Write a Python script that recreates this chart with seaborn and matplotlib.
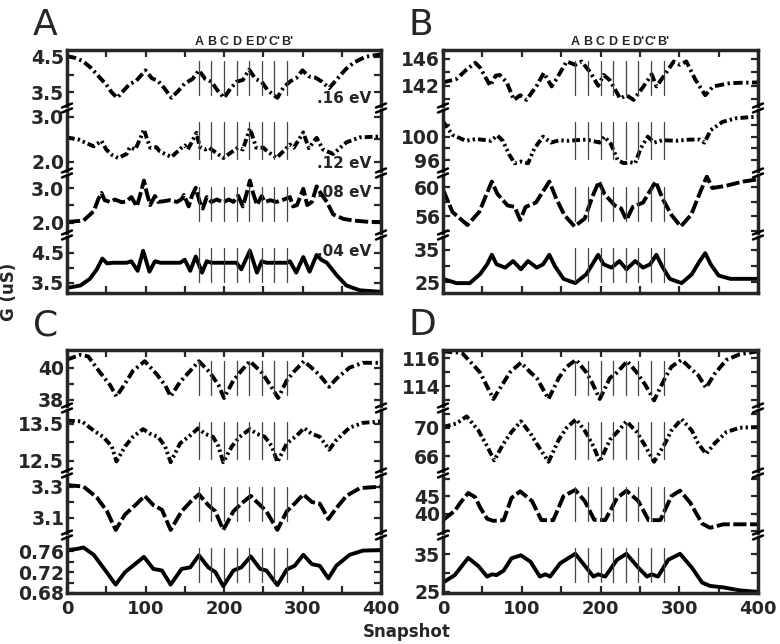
import matplotlib
matplotlib.use("Agg")
import matplotlib.pyplot as plt
from matplotlib.lines import Line2D
import seaborn as sns

# ---- data (snapshot, conductance in uS) ----
# Panel A
a16_x = [0, 10, 20, 30, 40, 50, 57, 64, 72, 80, 88, 100, 108, 116, 124, 133, 142, 150, 160, 168,
         176, 184, 192, 200, 208, 216, 224, 232, 240, 248, 256, 268, 276, 285, 292, 300, 308, 316,
         325, 334, 345, 355, 365, 380, 400]
a16_y = [4.52, 4.47, 4.38, 4.20, 3.96, 3.72, 3.50, 3.35, 3.55, 3.74, 3.82, 4.12, 3.90, 3.82, 3.62,
         3.35, 3.55, 3.75, 3.88, 4.12, 3.88, 3.80, 3.55, 3.35, 3.60, 3.80, 3.85, 4.14, 3.88, 3.80,
         3.55, 3.35, 3.65, 3.82, 3.90, 4.12, 3.95, 3.92, 3.80, 3.62, 3.90, 4.15, 4.33, 4.50, 4.57]
a12_x = [0, 15, 25, 34, 44, 50, 57, 65, 76, 80, 87, 93, 98, 102, 106, 114, 118, 133, 146, 150, 154,
         165, 169, 176, 181, 199, 212, 218, 224, 233, 241, 250, 255, 267, 280, 284, 289, 301, 308,
         318, 326, 339, 356, 373, 400]
a12_y = [2.54, 2.49, 2.41, 2.34, 2.46, 2.27, 2.15, 2.08, 2.17, 2.32, 2.27, 2.50, 2.72, 2.50, 2.31,
         2.32, 2.23, 2.10, 2.31, 2.36, 2.27, 2.64, 2.33, 2.27, 2.31, 2.08, 2.24, 2.31, 2.27, 2.74,
         2.31, 2.31, 2.23, 2.08, 2.31, 2.38, 2.31, 2.65, 2.30, 2.53, 2.27, 2.17, 2.43, 2.54, 2.56]
a08_x = [0, 21, 34, 40, 44, 48, 55, 61, 70, 76, 82, 89, 94, 98, 102, 106, 112, 116, 123, 131, 140,
         146, 149, 155, 159, 164, 169, 173, 178, 184, 191, 199, 206, 212, 218, 224, 229, 233, 237,
         242, 248, 252, 259, 267, 276, 284, 288, 293, 301, 306, 312, 318, 323, 331, 339, 352, 365,
         386, 399]
a08_y = [2.02, 2.06, 2.33, 2.69, 2.86, 2.65, 2.60, 2.67, 2.59, 2.62, 2.74, 2.47, 2.87, 3.22, 2.83,
         2.51, 2.77, 2.60, 2.62, 2.65, 2.60, 2.68, 2.80, 2.47, 2.77, 3.01, 2.60, 2.41, 2.74, 2.60,
         2.67, 2.59, 2.67, 2.60, 2.78, 2.47, 2.86, 3.22, 2.86, 2.51, 2.77, 2.60, 2.65, 2.60, 2.67,
         2.74, 2.47, 2.51, 2.98, 2.51, 2.60, 3.05, 2.86, 2.60, 2.24, 2.11, 2.06, 2.02, 2.02]
a04_x = [0, 17, 29, 38, 45, 51, 59, 76, 82, 90, 97, 105, 112, 119, 144, 150, 157, 164, 172, 178,
         184, 216, 222, 233, 242, 248, 254, 280, 284, 292, 301, 309, 318, 324, 331, 344, 356, 373, 399]
a04_y = [3.32, 3.40, 3.62, 3.94, 4.30, 4.14, 4.16, 4.16, 4.21, 3.89, 4.56, 3.86, 4.21, 4.16, 4.16,
         4.26, 3.89, 4.37, 3.83, 4.21, 4.16, 4.16, 3.94, 4.56, 3.83, 4.21, 4.16, 4.16, 4.21, 3.83,
         4.35, 3.86, 4.42, 4.26, 4.16, 3.73, 3.40, 3.24, 3.19]

# Panel B
b1_x = [0, 17, 30, 41, 47, 60, 67, 72, 81, 90, 98, 106, 119, 128, 138, 144, 157, 168, 176, 187,
        197, 204, 212, 225, 233, 242, 254, 265, 271, 282, 293, 301, 309, 320, 333, 343, 365, 400]
b1_y = [142.5, 143.0, 144.4, 145.4, 144.7, 142.0, 143.5, 143.6, 142.5, 139.9, 140.6, 139.9, 142.0,
        143.9, 141.9, 143.0, 145.6, 145.1, 145.6, 144.0, 142.0, 143.6, 142.8, 140.1, 140.6, 139.9,
        141.8, 143.7, 141.9, 143.7, 145.6, 145.1, 145.6, 143.0, 140.6, 141.9, 142.4, 142.5]
b2_x = [0, 12, 29, 42, 55, 61, 69, 76, 84, 91, 99, 108, 116, 127, 137, 148, 160, 169, 182, 199,
        205, 213, 222, 230, 237, 244, 251, 260, 268, 279, 296, 313, 326, 332, 340, 355, 372, 400]
b2_y = [102.6, 100.3, 99.3, 99.6, 99.4, 99.3, 100.2, 99.3, 97.0, 95.5, 95.8, 95.5, 98.0, 100.0,
        99.0, 99.4, 99.3, 99.4, 99.5, 99.0, 100.0, 98.8, 96.0, 95.5, 95.7, 95.5, 98.0, 100.0, 99.0,
        99.4, 99.3, 99.5, 99.5, 99.0, 101.1, 102.5, 103.1, 103.4]
b3_x = [0, 12, 31, 46, 62, 69, 82, 91, 98, 105, 118, 135, 144, 154, 167, 180, 190, 198, 205, 218,
        226, 233, 241, 254, 270, 279, 290, 302, 315, 328, 335, 342, 359, 381, 400]
b3_y = [59.7, 56.6, 54.8, 56.6, 60.8, 59.1, 57.5, 57.3, 55.5, 57.3, 57.9, 60.8, 58.4, 56.2, 54.6,
        55.7, 58.8, 60.8, 59.1, 57.5, 57.1, 55.5, 57.3, 57.9, 60.8, 58.4, 56.2, 54.6, 56.2, 59.7,
        61.5, 59.9, 60.2, 60.8, 61.1]
b4_x = [0, 17, 34, 47, 56, 62, 68, 79, 89, 99, 108, 119, 127, 135, 142, 153, 168, 182, 197, 204,
        214, 224, 233, 244, 254, 263, 271, 278, 288, 303, 316, 326, 333, 340, 350, 365, 400]
b4_y = [26.1, 24.8, 24.8, 27.5, 30.5, 33.4, 30.5, 29.5, 31.5, 29.0, 31.5, 29.5, 30.5, 33.4, 30.0,
        26.1, 24.8, 27.5, 33.4, 30.5, 29.5, 31.5, 29.0, 31.5, 29.5, 30.5, 33.4, 30.0, 26.1, 24.8,
        27.5, 31.5, 33.9, 30.5, 27.1, 26.1, 26.1]

# Panel C
c1_x = [0, 17, 27, 42, 55, 63, 74, 84, 99, 114, 125, 132, 144, 157, 168, 182, 193, 200, 212, 222,
        233, 248, 259, 269, 280, 290, 302, 316, 324, 334, 343, 360, 377, 400]
c1_y = [40.5, 40.8, 40.7, 39.7, 38.9, 38.2, 39.0, 39.8, 40.4, 39.6, 38.9, 38.2, 39.1, 39.8, 40.4,
        39.7, 38.9, 38.1, 39.2, 39.8, 40.4, 39.7, 38.9, 38.1, 39.2, 39.8, 40.4, 39.8, 39.4, 38.8,
        39.3, 40.0, 40.3, 40.3]
c2_x = [0, 19, 34, 46, 57, 63, 74, 84, 97, 106, 116, 125, 132, 144, 157, 167, 176, 186, 193, 199,
        210, 220, 233, 242, 252, 261, 268, 280, 293, 302, 312, 322, 334, 343, 360, 377, 400]
c2_y = [13.59, 13.57, 13.32, 13.15, 12.89, 12.48, 12.89, 13.15, 13.36, 13.23, 13.15, 12.89, 12.46,
        12.97, 13.19, 13.38, 13.23, 13.15, 12.89, 12.46, 12.89, 13.15, 13.36, 13.23, 13.15, 12.89,
        12.46, 12.97, 13.19, 13.39, 13.23, 13.15, 12.80, 13.06, 13.40, 13.53, 13.57]
c3_x = [0, 21, 38, 51, 62, 74, 87, 99, 110, 121, 132, 146, 157, 168, 180, 189, 199, 212, 222, 234,
        246, 254, 268, 280, 290, 301, 312, 322, 333, 343, 356, 373, 400]
c3_y = [3.31, 3.30, 3.23, 3.14, 3.02, 3.12, 3.18, 3.24, 3.18, 3.15, 3.02, 3.14, 3.20, 3.25, 3.18,
        3.14, 3.02, 3.14, 3.19, 3.24, 3.18, 3.14, 3.02, 3.14, 3.19, 3.25, 3.20, 3.19, 3.09, 3.16,
        3.24, 3.29, 3.30]
c4_x = [0, 12, 21, 34, 46, 62, 74, 84, 98, 110, 121, 132, 146, 157, 168, 180, 189, 199, 212, 222,
        234, 246, 254, 268, 280, 290, 301, 312, 322, 333, 343, 360, 377, 400]
c4_y = [0.762, 0.764, 0.767, 0.753, 0.729, 0.696, 0.720, 0.732, 0.749, 0.726, 0.723, 0.696, 0.726,
        0.729, 0.752, 0.729, 0.720, 0.693, 0.723, 0.729, 0.750, 0.726, 0.723, 0.695, 0.725, 0.732,
        0.753, 0.735, 0.732, 0.708, 0.732, 0.753, 0.761, 0.762]

# Panel D
d1_x = [0, 24, 34, 47, 64, 75, 85, 99, 111, 119, 134, 147, 157, 169, 182, 189, 199, 212, 221, 234,
        246, 257, 268, 282, 290, 303, 316, 324, 334, 345, 360, 377, 400]
d1_y = [116.5, 116.4, 115.8, 115.0, 113.1, 114.1, 115.0, 115.7, 115.0, 114.6, 113.1, 114.6, 115.4,
        115.9, 115.0, 114.3, 113.1, 114.6, 115.0, 115.8, 115.0, 114.1, 113.0, 114.6, 115.4, 115.9,
        115.2, 114.8, 113.9, 114.9, 115.9, 116.3, 116.5]
d2_x = [0, 17, 30, 45, 56, 65, 77, 87, 99, 111, 121, 134, 147, 157, 169, 180, 191, 199, 212, 223,
        233, 246, 257, 268, 282, 290, 303, 316, 324, 334, 345, 360, 377, 400]
d2_y = [70.1, 70.6, 71.6, 69.6, 67.4, 65.4, 67.8, 69.4, 70.9, 69.2, 67.4, 65.2, 68.3, 70.0, 71.2,
        69.6, 67.4, 65.2, 68.3, 69.6, 70.9, 69.4, 67.4, 65.2, 67.8, 69.6, 71.2, 69.6, 67.8, 66.3,
        67.8, 69.4, 70.0, 70.1]
d3_x = [0, 15, 22, 32, 41, 47, 56, 64, 77, 87, 98, 113, 125, 140, 153, 168, 180, 192, 206, 221,
        233, 248, 261, 276, 290, 301, 314, 329, 339, 356, 400]
d3_y = [38.1, 40.8, 43.1, 45.9, 44.7, 41.8, 38.5, 37.9, 38.1, 44.5, 46.4, 43.6, 38.1, 38.1, 45.0,
        46.8, 43.6, 38.2, 38.1, 44.5, 46.6, 43.6, 38.1, 38.1, 45.0, 46.6, 43.1, 37.1, 35.9, 36.9, 36.9]
d4_x = [0, 15, 32, 45, 56, 62, 68, 77, 87, 99, 111, 123, 130, 136, 149, 168, 182, 191, 197, 206,
        221, 233, 248, 259, 265, 273, 286, 301, 316, 329, 339, 356, 377, 400]
d4_y = [27.4, 29.4, 34.0, 31.8, 29.0, 29.6, 29.4, 30.6, 33.9, 34.7, 33.0, 29.0, 29.6, 29.0, 32.6,
        35.1, 31.4, 29.0, 29.6, 29.0, 33.5, 35.1, 31.4, 29.0, 29.6, 29.0, 33.5, 35.1, 31.4, 27.4,
        26.5, 26.1, 25.3, 24.9]

# vertical marker snapshots and their labels
marker_snaps = [168, 184, 200, 216, 232, 248, 264, 280]
marker_names = ["A", "B", "C", "D", "E", "D'", "C'", "B'"]

energy_labels = [".16 eV", ".12 eV", ".08 eV", ".04 eV"]

# ---- style ----
sns.set_style("ticks")
plt.rcParams['font.family'] = ['DejaVu Sans']
plt.rcParams['font.weight'] = 'bold'

W, H = 780, 644
fig = plt.figure(figsize=(W / 100, H / 100), dpi=100)

line_styles = [(0, (2.4, 0.9, 0.6, 0.9)),
               (0, (2.0, 0.8, 0.6, 0.8, 0.6, 0.8)),
               (0, (3.4, 0.9)),
               '-']
sub_edges = [0, 58, 123, 185, 243]   # pixel offsets of breaks inside a panel
GAP = 4

panels = [
    dict(name='A', left=67, top=50, width=314,
         curves=[(a16_x, a16_y), (a12_x, a12_y), (a08_x, a08_y), (a04_x, a04_y)],
         ylims=[(3.12, 4.69), (1.79, 3.15), (1.70, 3.38), (3.15, 5.02)],
         yticks=[[3.5, 4.0, 4.5], [2.0, 2.5, 3.0], [2.0, 2.5, 3.0], [3.5, 4.0, 4.5]],
         ylabels=[['3.5', '', '4.5'], ['2.0', '', '3.0'], ['2.0', '', '3.0'], ['3.5', '', '4.5']],
         xlabels=False, top_labels=True, energies=True),
    dict(name='B', left=443, top=50, width=315,
         curves=[(b1_x, b1_y), (b2_x, b2_y), (b3_x, b3_y), (b4_x, b4_y)],
         ylims=[(139.0, 147.3), (94.2, 104.5), (53.7, 61.7), (21.8, 38.8)],
         yticks=[[140, 142, 144, 146], [96, 98, 100, 102], [54, 56, 58, 60], [25, 30, 35]],
         ylabels=[['', '142', '', '146'], ['96', '', '100', ''], ['', '56', '', '60'],
                  ['25', '', '35']],
         xlabels=False, top_labels=True, energies=False),
    dict(name='C', left=67, top=350, width=314,
         curves=[(c1_x, c1_y), (c2_x, c2_y), (c3_x, c3_y), (c4_x, c4_y)],
         ylims=[(37.6, 41.1), (12.22, 13.88), (3.0, 3.375), (0.68, 0.787)],
         yticks=[[38, 39, 40], [12.5, 13.0, 13.5], [3.1, 3.2, 3.3], [0.68, 0.70, 0.72, 0.74, 0.76]],
         ylabels=[['38', '', '40'], ['12.5', '', '13.5'], ['3.1', '', '3.3'],
                  ['0.68', '', '0.72', '', '0.76']],
         xlabels=True, top_labels=False, energies=False),
    dict(name='D', left=443, top=350, width=315,
         curves=[(d1_x, d1_y), (d2_x, d2_y), (d3_x, d3_y), (d4_x, d4_y)],
         ylims=[(112.6, 116.6), (63.9, 72.5), (34.4, 51.1), (24.6, 39.6)],
         yticks=[[113, 114, 115, 116], [66, 68, 70, 72], [35, 40, 45, 50], [25, 30, 35]],
         ylabels=[['', '114', '', '116'], ['66', '', '70', ''], ['', '40', '45', ''],
                  ['25', '', '35']],
         xlabels=True, top_labels=False, energies=False),
]

energy_pos = [(0.97, 0.14), (0.97, 0.12), (0.97, 0.69), (0.97, 0.74)]


def fx(px):
    return px / W


def fy(py):
    return 1 - py / H


def break_marks(xpx, ypx):
    # two short slanted strokes across a spine
    for dy in (-2.5, 2.5):
        fig.add_artist(Line2D([fx(xpx - 5), fx(xpx + 5)],
                              [fy(ypx + dy + 2), fy(ypx + dy - 2)],
                              color='black', lw=1.8, transform=fig.transFigure))


for p in panels:
    for i in range(4):
        t = p['top'] + sub_edges[i] + (GAP / 2 if i > 0 else 0)
        b = p['top'] + sub_edges[i + 1] - (GAP / 2 if i < 3 else 0)
        ax = fig.add_axes([fx(p['left']), fy(b), p['width'] / W, (b - t) / H])
        xs, ys = p['curves'][i]
        sns.lineplot(x=xs, y=ys, ax=ax, color='black', linewidth=2.8,
                     linestyle=line_styles[i], errorbar=None)
        for s in marker_snaps:
            ax.axvline(s, ymin=0.2, ymax=0.8, color='#444444', lw=0.9)
        ax.set_xlim(0, 400)
        ax.set_ylim(*p['ylims'][i])
        ax.set_yticks(p['yticks'][i])
        ax.set_yticklabels(p['ylabels'][i])
        ax.set_xticks([0, 100, 200, 300, 400])
        ax.set_xticks([50, 150, 250, 350], minor=True)
        ax.set_xlabel('')
        ax.set_ylabel('')
        for sp in ax.spines.values():
            sp.set_linewidth(2.5)
        ax.spines['top'].set_visible(i == 0)
        ax.spines['bottom'].set_visible(i == 3)
        ax.tick_params(axis='y', which='both', direction='in', left=True, right=True,
                       length=5, width=1.6, labelsize=13.5, pad=2)
        ax.tick_params(axis='x', which='both', direction='in', top=(i == 0), bottom=(i == 3),
                       length=5, width=1.6, labelsize=13, pad=5,
                       labelbottom=(i == 3 and p['xlabels']))
        for lab in ax.get_yticklabels() + ax.get_xticklabels():
            lab.set_fontweight('bold')
        if p['energies']:
            ex, ey = energy_pos[i]
            ax.text(ex, ey, energy_labels[i], transform=ax.transAxes, ha='right', va='center',
                    fontsize=11, fontweight='bold')
        if i == 0 and p['top_labels']:
            for s, n in zip(marker_snaps, marker_names):
                ax.text(s, 1.03, n, transform=ax.get_xaxis_transform(), ha='center',
                        va='bottom', fontsize=9, fontweight='bold',
                        family=['Liberation Sans', 'DejaVu Sans'])
        if i < 3:
            yb = p['top'] + sub_edges[i + 1]
            break_marks(p['left'], yb)
            break_marks(p['left'] + p['width'], yb)
    fig.text(fx(p['left'] - 34), fy(p['top'] - 42), p['name'], ha='left', va='top',
             fontsize=26, fontweight='normal', family=['Liberation Sans Narrow', 'DejaVu Sans'])

fig.text(0.012, 0.547, 'G (uS)', rotation=90, ha='center', va='center',
         fontsize=12, fontweight='bold')
fig.text(0.522, 0.019, 'Snapshot', ha='center', va='center', fontsize=12, fontweight='bold')

fig.savefig('out.png', dpi=100)
